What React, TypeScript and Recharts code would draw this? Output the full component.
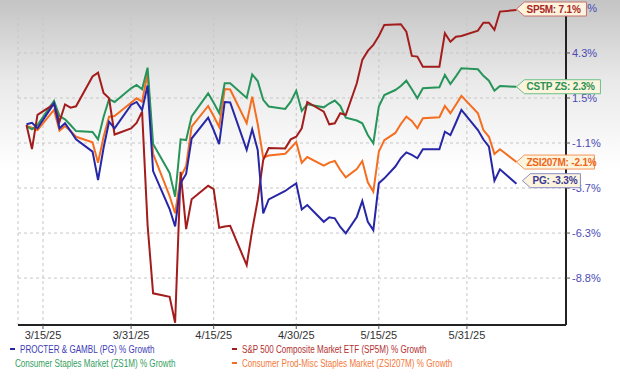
import * as React from 'react';
import { LineChart, Line, XAxis, YAxis, CartesianGrid, LabelList } from 'recharts';

// days counted from 3/1/25
const days = [
  11, 12, 13, 16, 17, 18, 19, 20, 23, 24, 25, 26, 27, 30, 31, 32, 33, 34, 37, 38, 39, 40, 41,
  44, 45, 46, 47, 48, 51, 52, 53, 54, 55, 58, 59, 60, 61, 62, 65, 66, 67, 68, 69, 71, 72, 73,
  74, 75, 76, 78, 79, 80, 81, 82, 83, 86, 87, 88, 89, 90, 93, 94, 95, 96, 97, 100,
];

const pg = [
  0.18, 0.27, -0.05, 1.39, -0.05, 0.24, -0.21, -0.69, -1.4, -3.04, -1.19, 0.33, -0.05, 1.3, 1.47,
  1.01, 2.42, -2.52, -4.71, -5.72, -3.21, -2.69, -0.64, 0.57, -0.15, -0.96, 1.47, 1.44, -1.3,
  -0.11, -1.3, -4.96, -4.16, -3.67, -3.44, -3.23, -4.74, -4.48, -5.45, -5.19, -5.25, -5.75,
  -6.12, -5.17, -4.25, -5.45, -5.93, -3.23, -2.94, -2.26, -1.77, -1.44, -1.59, -1.78, -1.26,
  -1.26, -0.25, -0.44, 0.27, 1.01, -0.15, -0.7, -1.11, -3.08, -2.42, -3.25,
];

const sp5m = [
  0.14, -1.25, 0.72, 1.35, 0.33, 1.33, 1.14, 1.22, 2.94, 3.16, 1.99, 1.68, -0.41, -0.06, 0.26,
  0.91, -5.64, -9.58, -9.78, -11.28, -2.56, -5.87, -4.15, -3.37, -3.56, -5.79, -5.72, -5.68,
  -7.95, -5.93, -4.19, -1.88, -1.19, -1.21, -0.69, -0.54, -0.05, 1.47, 0.91, 0.18, 0.24, 0.82,
  0.72, 2.55, 3.9, 4.42, 4.76, 5.28, 5.92, 5.95, 5.96, 5.53, 4.13, 4.09, 3.51, 3.51, 5.44, 4.95,
  5.24, 5.28, 5.59, 6.05, 6.05, 5.63, 6.69, 6.78,
];

const zs1m = [
  0.08, -0.11, 0.14, 1.53, 0.66, 0.47, 0.14, -0.21, -0.26, -0.69, 0.6, 1.63, 1.47, 2.26, 2.45,
  2.2, 3.45, -0.96, -2.63, -4.0, -0.69, -0.73, 0.63, 1.97, 1.43, 0.83, 2.55, 2.55, 1.7, 3.06,
  2.68, 1.59, 1.21, 1.07, 1.49, 2.12, 0.95, 1.34, 1.16, 1.38, 1.55, 1.24, 0.56, 0.4, 0.24,
  -0.44, -0.92, 1.2, 1.87, 2.16, 2.39, 2.7, 2.2, 1.68, 2.26, 2.32, 3.03, 2.51, 2.95, 3.42, 3.36,
  2.98, 2.7, 2.12, 2.39, 2.35,
];

const zsi207m = [
  0.08, -0.02, -0.15, 1.01, -0.19, 0.08, -0.21, -0.54, -0.86, -2.04, -0.55, 0.62, 0.66, 1.43,
  1.68, 1.49, 3.13, -1.53, -3.96, -4.96, -2.86, -2.23, 0.05, 1.24, 0.66, 0.03, 2.22, 2.19, 0.24,
  1.78, 0.2, -1.74, -1.62, -1.52, -1.19, -0.84, -2.04, -1.71, -2.21, -2.03, -1.94, -2.46, -2.88,
  -2.4, -1.94, -3.17, -3.71, -1.4, -0.73, -0.32, 0.2, 0.62, 0.37, -0.05, 0.53, 0.59, 1.24, 0.82,
  1.31, 1.82, 0.82, -0.15, -0.54, -1.53, -1.26, -2.0,
];

const xTicks = [14, 30, 45, 60, 75, 91];
const xTickLabels = ['3/15/25', '3/31/25', '4/15/25', '4/30/25', '5/15/25', '5/31/25'];

const yTicks = [6.9, 4.3, 1.7, -0.9, -3.5, -6.1, -8.7];
const yTickLabels = ['6.9%', '4.3%', '1.5%', '-1.1%', '-3.7%', '-6.3%', '-8.8%'];

const endLabels = {
  sp5m: 'SP5M: 7.1%',
  zs1m: 'CSTP ZS: 2.3%',
  zsi207m: 'ZSI207M: -2.1%',
  pg: 'PG: -3.3%',
};

const legendItems = [
  { key: 'pg', text: 'PROCTER & GAMBL (PG) % Growth' },
  { key: 'sp5m', text: 'S&P 500 Composite Market ETF (SP5M) % Growth' },
  { key: 'zs1m', text: 'Consumer Staples Market (ZS1M) % Growth' },
  { key: 'zsi207m', text: 'Consumer Prod-Misc Staples Market (ZSI207M) % Growth' },
];

const rows = days.map((day, i) => ({
  day,
  pg: pg[i],
  sp5m: sp5m[i],
  zs1m: zs1m[i],
  zsi207m: zsi207m[i],
}));

const FONT = '"Liberation Sans", Arial, sans-serif';

const X_DOMAIN: [number, number] = [9.46, 109.0];
const Y_DOMAIN: [number, number] = [-11.41, 7.07];

const lineColor: Record<string, string> = {
  pg: '#2626a6',
  sp5m: '#a31d1d',
  zs1m: '#27955a',
  zsi207m: '#f56d1f',
};

const legendColor: Record<string, string> = {
  pg: '#3c3cb4',
  sp5m: '#b23030',
  zs1m: '#34a060',
  zsi207m: '#f4793a',
};

// tag look per series: text colour, border, width, nudges
const tagStyle: Record<string, { text: string; border: string; w: number; dx: number; dy: number }> = {
  sp5m: { text: '#a82525', border: '#c87070', w: 70, dx: 0, dy: -1 },
  zs1m: { text: '#2a9255', border: '#6cc08a', w: 84, dx: 0, dy: 0 },
  zsi207m: { text: '#ee6418', border: '#f3955e', w: 78, dx: 0, dy: 0 },
  pg: { text: '#3a3a96', border: '#8c8cc8', w: 58, dx: 6, dy: -3 },
};

function makeTag(key: string) {
  const last = rows.length - 1;
  return (props: any) => {
    if (props.index !== last) return null;
    const s = tagStyle[key];
    const x0 = (props.x ?? props.viewBox?.x) + s.dx;
    const yc = (props.y ?? props.viewBox?.y) + s.dy;
    const h = 7;
    const pts = [
      [x0, yc],
      [x0 + 8, yc - h],
      [x0 + s.w, yc - h],
      [x0 + s.w, yc + h],
      [x0 + 8, yc + h],
    ]
      .map((p) => p.join(','))
      .join(' ');
    return (
      <g>
        <polygon points={pts} fill="#fcf4dc" stroke={s.border} strokeWidth={1} />
        <text
          x={x0 + 10}
          y={yc + 3.5}
          fontSize={10}
          fontWeight="bold"
          fontFamily={FONT}
          letterSpacing={-0.2}
          fill={s.text}
        >
          {endLabels[key as keyof typeof endLabels]}
        </text>
      </g>
    );
  };
}

function Legend() {
  return (
    <div
      style={{
        position: 'absolute',
        left: 0,
        top: 343,
        width: 620,
        fontFamily: FONT,
        fontSize: 10.5,
        display: 'grid',
        gridTemplateColumns: '222px 398px',
        rowGap: 2,
      }}
    >
      {legendItems.map((it) => (
        <div
          key={it.key}
          style={{ display: 'flex', alignItems: 'center', color: legendColor[it.key], height: 12, whiteSpace: 'nowrap' }}
        >
          <span
            style={{
              display: 'inline-block',
              width: 5,
              height: 2,
              marginLeft: 10,
              marginRight: 5,
              background: lineColor[it.key],
            }}
          />
          {/* the source legend uses a condensed face */}
          <span style={{ display: 'inline-block', transform: 'scaleX(0.77)', transformOrigin: 'left center' }}>
            {it.text}
          </span>
        </div>
      ))}
    </div>
  );
}

const series = ['zsi207m', 'zs1m', 'sp5m', 'pg'];

export default function App() {
  return (
    <div
      style={{
        position: 'absolute',
        left: 0,
        top: 0,
        width: 620,
        height: 376,
        background: 'linear-gradient(to bottom, #c4c4c4 0px, #e9e9e9 80px, #ffffff 170px)',
        fontFamily: FONT,
      }}
    >
      <LineChart width={620} height={376} data={rows} margin={{ top: 5, right: 0, bottom: 21, left: 18 }}>
        <CartesianGrid stroke="#c6c6c6" strokeDasharray="3 3" />
        <XAxis
          dataKey="day"
          type="number"
          domain={X_DOMAIN}
          ticks={xTicks}
          tickFormatter={(v: number) => xTickLabels[xTicks.indexOf(v)]}
          height={30}
          axisLine={{ stroke: '#222', strokeWidth: 2 }}
          tickLine={{ stroke: '#555' }}
          tickSize={4}
          tick={{ fontSize: 11, fill: '#333', fontFamily: FONT }}
        />
        <YAxis
          orientation="right"
          type="number"
          domain={Y_DOMAIN}
          ticks={yTicks}
          tickFormatter={(v: number) => yTickLabels[yTicks.indexOf(v)]}
          width={54}
          axisLine={{ stroke: '#222', strokeWidth: 2 }}
          tickLine={{ stroke: '#555' }}
          tickSize={4}
          tick={{ fontSize: 11, fill: '#4a4ab4', fontFamily: FONT, textAnchor: 'start' }}
          allowDataOverflow
        />
        {series.map((k) => (
          <Line
            key={k}
            dataKey={k}
            stroke={lineColor[k]}
            strokeWidth={2}
            dot={false}
            type="linear"
            isAnimationActive={false}
          />
        ))}
      </LineChart>
      {/* same scales again, on top, only for the end-of-line tags so they cover the axis text */}
      <div style={{ position: 'absolute', left: 0, top: 0, pointerEvents: 'none' }}>
        <LineChart width={620} height={376} data={rows} margin={{ top: 5, right: 54, bottom: 51, left: 18 }}>
          <XAxis dataKey="day" type="number" domain={X_DOMAIN} hide />
          <YAxis type="number" domain={Y_DOMAIN} hide allowDataOverflow />
          {series.map((k) => (
            <Line
              key={k}
              dataKey={k}
              stroke="none"
              dot={false}
              isAnimationActive={false}
            >
              <LabelList dataKey={k} content={makeTag(k)} />
            </Line>
          ))}
        </LineChart>
      </div>
      <Legend />
    </div>
  );
}
